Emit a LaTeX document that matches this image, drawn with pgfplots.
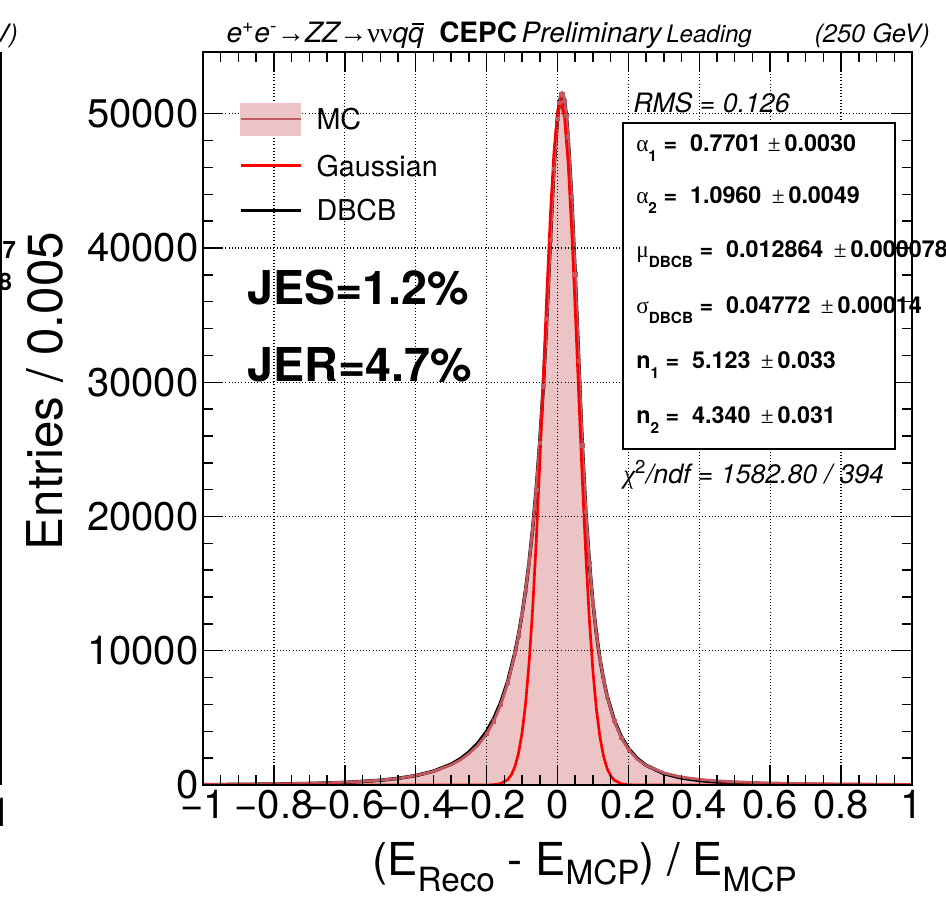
\documentclass[border=0pt]{standalone}
\usepackage{pgfplots}
\pgfplotsset{compat=1.18}
\usepackage{pgfplotstable}
\usepackage{fontspec}
\setmainfont{TeX Gyre Heros}
\newfontfamily\grk{Liberation Serif}
\definecolor{mcfill}{RGB}{237,196,198}
\definecolor{mcline}{RGB}{194,88,96}
\newcommand{\sub}[1]{\raisebox{-0.42em}{\fontsize{11.5}{11.5}\selectfont\bfseries #1}}

\pgfplotstableread{
x y
-1.00 40
-0.95 45
-0.90 55
-0.85 65
-0.80 80
-0.75 100
-0.70 125
-0.65 160
-0.60 205
-0.55 265
-0.50 360
-0.45 490
-0.40 700
-0.35 1010
-0.30 1500
-0.275 1850
-0.25 2330
-0.225 2950
-0.20 3800
-0.18 4750
-0.16 5980
-0.14 7640
-0.12 9800
-0.11 11150
-0.10 12700
-0.09 14500
-0.08 16600
-0.07 19100
-0.06 22000
-0.05 25500
-0.04 29700
-0.03 34700
-0.02 40600
-0.01 45900
0.00 49650
0.005 50800
0.01 51450
0.015 51500
0.02 50950
0.025 49850
0.03 48300
0.04 43800
0.05 38050
0.06 31600
0.07 25300
0.08 20350
0.09 16550
0.10 13550
0.11 11200
0.12 9350
0.13 7850
0.14 6600
0.16 4780
0.18 3520
0.20 2640
0.225 1920
0.25 1450
0.30 900
0.35 590
0.40 420
0.45 310
0.50 240
0.55 190
0.60 150
0.70 105
0.80 75
0.90 55
1.00 40
}\hist

\pgfplotstableread{
x y
-1.00 28
-0.90 43
-0.80 68
-0.70 111
-0.60 191
-0.50 350
-0.45 494
-0.40 699
-0.35 1025
-0.30 1551
-0.275 1933
-0.25 2434
-0.225 3100
-0.20 3992
-0.18 4938
-0.16 6154
-0.14 7751
-0.12 9873
-0.11 11200
-0.10 12730
-0.09 14520
-0.08 16630
-0.07 19110
-0.06 22040
-0.05 25540
-0.04 29700
-0.03 34720
-0.0239 38290
-0.02 40620
-0.01 45910
0.00 49660
0.005 50800
0.01 51410
0.0129 51500
0.015 51450
0.02 50930
0.025 49860
0.03 48290
0.04 43810
0.05 38050
0.06 31620
0.0652 28250
0.07 25320
0.08 20350
0.09 16530
0.10 13550
0.11 11210
0.12 9350
0.13 7850
0.14 6640
0.16 4840
0.18 3600
0.20 2730
0.225 1976
0.25 1463
0.30 848
0.35 523
0.40 338
0.45 228
0.50 159
0.60 83
0.70 47
0.80 29
0.90 19
1.00 12
}\dbcb

\pgfplotstableread{
x y
-1.00 0
-0.30 0
-0.22 1
-0.20 4
-0.18 22
-0.16 104
-0.14 412
-0.13 770
-0.12 1379
-0.11 2360
-0.10 3872
-0.09 6080
-0.08 9140
-0.07 13160
-0.06 18150
-0.05 23960
-0.04 30290
-0.03 36660
-0.02 42490
-0.01 47160
0.00 50110
0.009 51000
0.02 49680
0.03 46340
0.04 41400
0.05 35410
0.06 29000
0.07 22750
0.08 17080
0.09 12280
0.10 8456
0.11 5575
0.12 3519
0.13 2126
0.14 1231
0.15 682
0.16 362
0.18 90
0.20 19
0.22 3
0.25 0
1.00 0
}\gaus

\begin{document}
\begin{tikzpicture}
\useasboundingbox (-152.25pt,-84.75pt) rectangle (557.25pt,588.75pt);
\begin{axis}[
  at={(0pt,0pt)}, anchor=south west,
  scale only axis, width=531.75pt, height=549.75pt,
  xmin=-1, xmax=1, ymin=0, ymax=54600,
  axis on top,
  scaled ticks=false,
  xtick={-1,-0.8,-0.6,-0.4,-0.2,0,0.2,0.4,0.6,0.8,1},
  xticklabels={−1,−0.8,−0.6,−0.4,−0.2,0,0.2,0.4,0.6,0.8,1},
  ytick={0,10000,20000,30000,40000,50000},
  yticklabels={0,10000,20000,30000,40000,50000},
  minor x tick num=3, minor y tick num=4,
  tick pos=both,
  major tick length=15pt, minor tick length=7.5pt,
  every tick/.style={line width=1.1pt, black},
  axis line style={line width=1.6pt},
  grid=major,
  major grid style={dotted, line width=1pt, black},
  ticklabel style={font=\fontsize{30}{32}\selectfont},
  xlabel={(E\raisebox{-12.5pt}{\fontsize{25}{25}\selectfont Reco} - E\raisebox{-7pt}{\fontsize{25}{25}\selectfont MCP}) / E\raisebox{-12.5pt}{\fontsize{25}{25}\selectfont MCP}},
  xlabel style={font=\fontsize{34}{36}\selectfont, at={(axis description cs:0.232,-0.1228)}, anchor=base west},
  ylabel={Entries / 0.005},
  ylabel style={font=\fontsize{37}{40}\selectfont, at={(axis description cs:-0.2228,0.5375)}, anchor=center},
  legend image code/.code={\draw[#1] (0pt,0pt) -- (45pt,0pt);},
  legend cell align=left,
  legend style={at={(rel axis cs:0.0508,0.931)}, anchor=north west, draw=none, fill=none,
    font=\fontsize{21.5}{24}\selectfont, row sep=12pt, inner sep=0pt,
    nodes={inner sep=3pt, text height=15.5pt, text depth=0pt},
    /tikz/every odd column/.append style={column sep=8pt}},
]
\addlegendimage{legend image code/.code={\fill[mcfill] (0pt,-12pt) rectangle (45pt,12pt); \draw[mcline, line width=1.5pt] (0pt,0pt) -- (45pt,0pt);}}
\addlegendentry{MC}
\addlegendimage{red, line width=2pt}
\addlegendentry{Gaussian}
\addlegendimage{black, line width=2pt}
\addlegendentry{DBCB}

\addplot[draw=none, fill=mcfill, forget plot] table[x=x, y=y] {\hist} \closedcycle;
\addplot[black, line width=2.6pt, forget plot] table[x=x, y=y] {\dbcb};
\addplot[mcline, line width=2.1pt, forget plot] table[x=x, y=y] {\hist};
\addplot[only marks, mcline, mark=square*, mark size=1.2pt, restrict x to domain=-0.21:0.21, forget plot] table[x=x, y=y] {\hist};
\addplot[red, line width=2pt, forget plot] table[x=x, y=y] {\gaus};
\end{axis}

% title
\node[anchor=base west, font=\fontsize{21}{24}\selectfont, inner sep=0pt] at (17.5pt,556.5pt)
  {\itshape e\textsuperscript{+}e\textsuperscript{-}{\grk\upshape →}ZZ{\grk\upshape →}{\grk\upshape νν}q\makebox[0pt][l]{\kern0.14em\rule[0.64em]{0.42em}{0.06em}}q\upshape\ \ \textbf{CEPC}\,\itshape Preliminary\,{\fontsize{18}{20}\selectfont Leading}};
\node[anchor=base east, font=\fontsize{19}{22}\selectfont\itshape, inner sep=0pt] at (545.25pt,556.5pt) {(250 GeV)};

% JES / JER
\node[font=\fontsize{35}{38}\selectfont\bfseries, inner sep=0pt] at (116.25pt,372.75pt) {JES=1.2\%};
\node[font=\fontsize{35}{38}\selectfont\bfseries, inner sep=0pt] at (117.75pt,315pt) {JER=4.7\%};

% stats
\node[anchor=west, font=\fontsize{20}{22}\selectfont\itshape, inner sep=0pt] at (322.5pt,511.5pt) {RMS = 0.126};
\draw[line width=1.1pt, fill=white] (315pt,496.5pt) rectangle (519pt,252pt);
\begin{scope}[every node/.style={anchor=west, font=\fontsize{17.5}{19}\selectfont, inner sep=0pt}]
\node at (324.75pt,477.75pt) {{\grk α}\sub{1}\textbf{\ = \ 0.7701 }{\grk ±}\textbf{\,0.0030}};
\node at (324.75pt,438.75pt) {{\grk α}\sub{2}\textbf{\ = \ 1.0960 \,}{\grk ±}\textbf{\,0.0049}};
\node at (324.75pt,398.25pt) {{\grk μ}\sub{DBCB}\textbf{\ = \ 0.012864 \,}{\grk ±}\textbf{\,0.000078}};
\node at (324.75pt,356.25pt) {{\grk σ}\sub{DBCB}\textbf{\ = \ 0.04772 \,}{\grk ±}\textbf{\,0.00014}};
\node at (324.75pt,315pt) {\textbf{n}\sub{1}\textbf{\ = \ 5.123 \,}{\grk ±}\textbf{\,0.033}};
\node at (324.75pt,273.75pt) {\textbf{n}\sub{2}\textbf{\ = \ 4.340 \,}{\grk ±}\textbf{\,0.031}};
\end{scope}
\node[anchor=west, font=\fontsize{20}{22}\selectfont\itshape, inner sep=0pt] at (315pt,232.5pt) {{\grk χ}\textsuperscript{\upshape 2}/ndf = 1582.80 / 394};

% fragments of the neighbouring panel
\draw[line width=1.5pt] (-151.5pt,0pt) -- (-151.5pt,549.75pt);
\node[anchor=base east, font=\fontsize{19}{22}\selectfont\itshape, inner sep=0pt] at (-138.75pt,556.5pt) {(250 GeV)};
\node[anchor=east, font=\fontsize{18}{19}\selectfont\bfseries, inner sep=0pt] at (-140pt,401.25pt) {0.0000107};
\node[anchor=east, font=\fontsize{18}{19}\selectfont\bfseries, inner sep=0pt] at (-143pt,377.25pt) {0.000108};
\node[anchor=east, font=\fontsize{30}{32}\selectfont, inner sep=0pt] at (-143pt,-20.25pt) {1};
\end{tikzpicture}
\end{document}
